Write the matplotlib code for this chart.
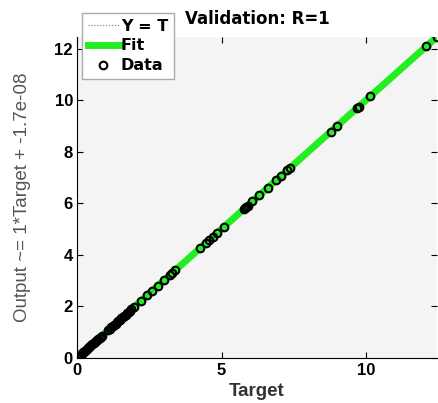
import matplotlib.pyplot as plt
import numpy as np

# validation targets (outputs equal targets, R=1)
targets = [0.02, 0.05, 0.08, 0.12, 0.15, 0.19, 0.22, 0.26, 0.3, 0.33, 0.37, 0.41,
           0.45, 0.49, 0.53, 0.57, 0.61, 0.65, 0.7, 0.74, 0.78, 0.82, 0.86,
           1.08, 1.13, 1.18, 1.23, 1.28, 1.33, 1.38, 1.43, 1.48, 1.53, 1.58,
           1.63, 1.68, 1.73, 1.78, 1.83, 1.88,
           1.98, 2.2, 2.42, 2.6, 2.8, 3.02, 3.2, 3.3, 3.4,
           4.27, 4.45, 4.58, 4.7, 4.85, 5.07,
           5.78, 5.82, 5.86, 5.9, 6.07, 6.3, 6.6, 6.9, 7.05, 7.28, 7.38,
           8.78, 9.0, 9.7, 9.75, 10.14, 12.08, 12.46]
outputs = list(targets)
slope = 1.0
intercept = -1.7e-08
r_value = 1

plt.rcParams['font.family'] = ['Liberation Sans', 'DejaVu Sans']
fig = plt.figure(figsize=(4.38, 4.03), dpi=100)
ax = fig.add_axes([0.176, 0.112, 0.822, 0.797])
ax.set_facecolor('#f4f4f4')

lo, hi = 0, max(targets)
line_x = np.array([lo, hi])
ax.plot(line_x, line_x, ':', color='#777777', lw=0.8, label='Y = T')
ax.plot(line_x, slope * line_x + intercept, color='#22ee22', lw=5, label='Fit', zorder=2)
ax.plot(targets, outputs, 'o', mfc='none', mec='black', mew=1.5, ms=5.5, label='Data', zorder=3)

ax.set_xlim(lo, hi)
ax.set_ylim(lo, hi)
ax.set_xticks([0, 5, 10])
ax.set_yticks([0, 2, 4, 6, 8, 10, 12])
ax.tick_params(direction='in', top=True, right=True, length=4, labelsize=12)
ax.tick_params(axis='x', pad=4)
ax.tick_params(axis='y', pad=3)
for lab in ax.get_xticklabels() + ax.get_yticklabels():
    lab.set_fontweight('bold')
ax.spines['top'].set_visible(False)
ax.spines['right'].set_visible(False)

ax.set_title('Validation: R=%d' % r_value, fontsize=12, fontweight='bold',
             family='DejaVu Sans', pad=9)
ax.set_xlabel('Target', fontsize=13.5, fontweight='bold', color='#333333', labelpad=3.5)
ax.set_ylabel('Output ~= %g*Target + %.2g' % (slope, intercept), fontsize=13.5,
              color='#555555', labelpad=17)

leg = ax.legend(loc='upper left', bbox_to_anchor=(0.014, 1.075),
                prop={'weight': 'bold', 'size': 11.5, 'family': 'DejaVu Sans'},
                handlelength=1.9, handletextpad=0.15, borderpad=0.38, labelspacing=0.3,
                fancybox=False, framealpha=1, edgecolor='#aaaaaa', borderaxespad=0)
leg.set_zorder(5)

plt.savefig('out.png', dpi=100)
